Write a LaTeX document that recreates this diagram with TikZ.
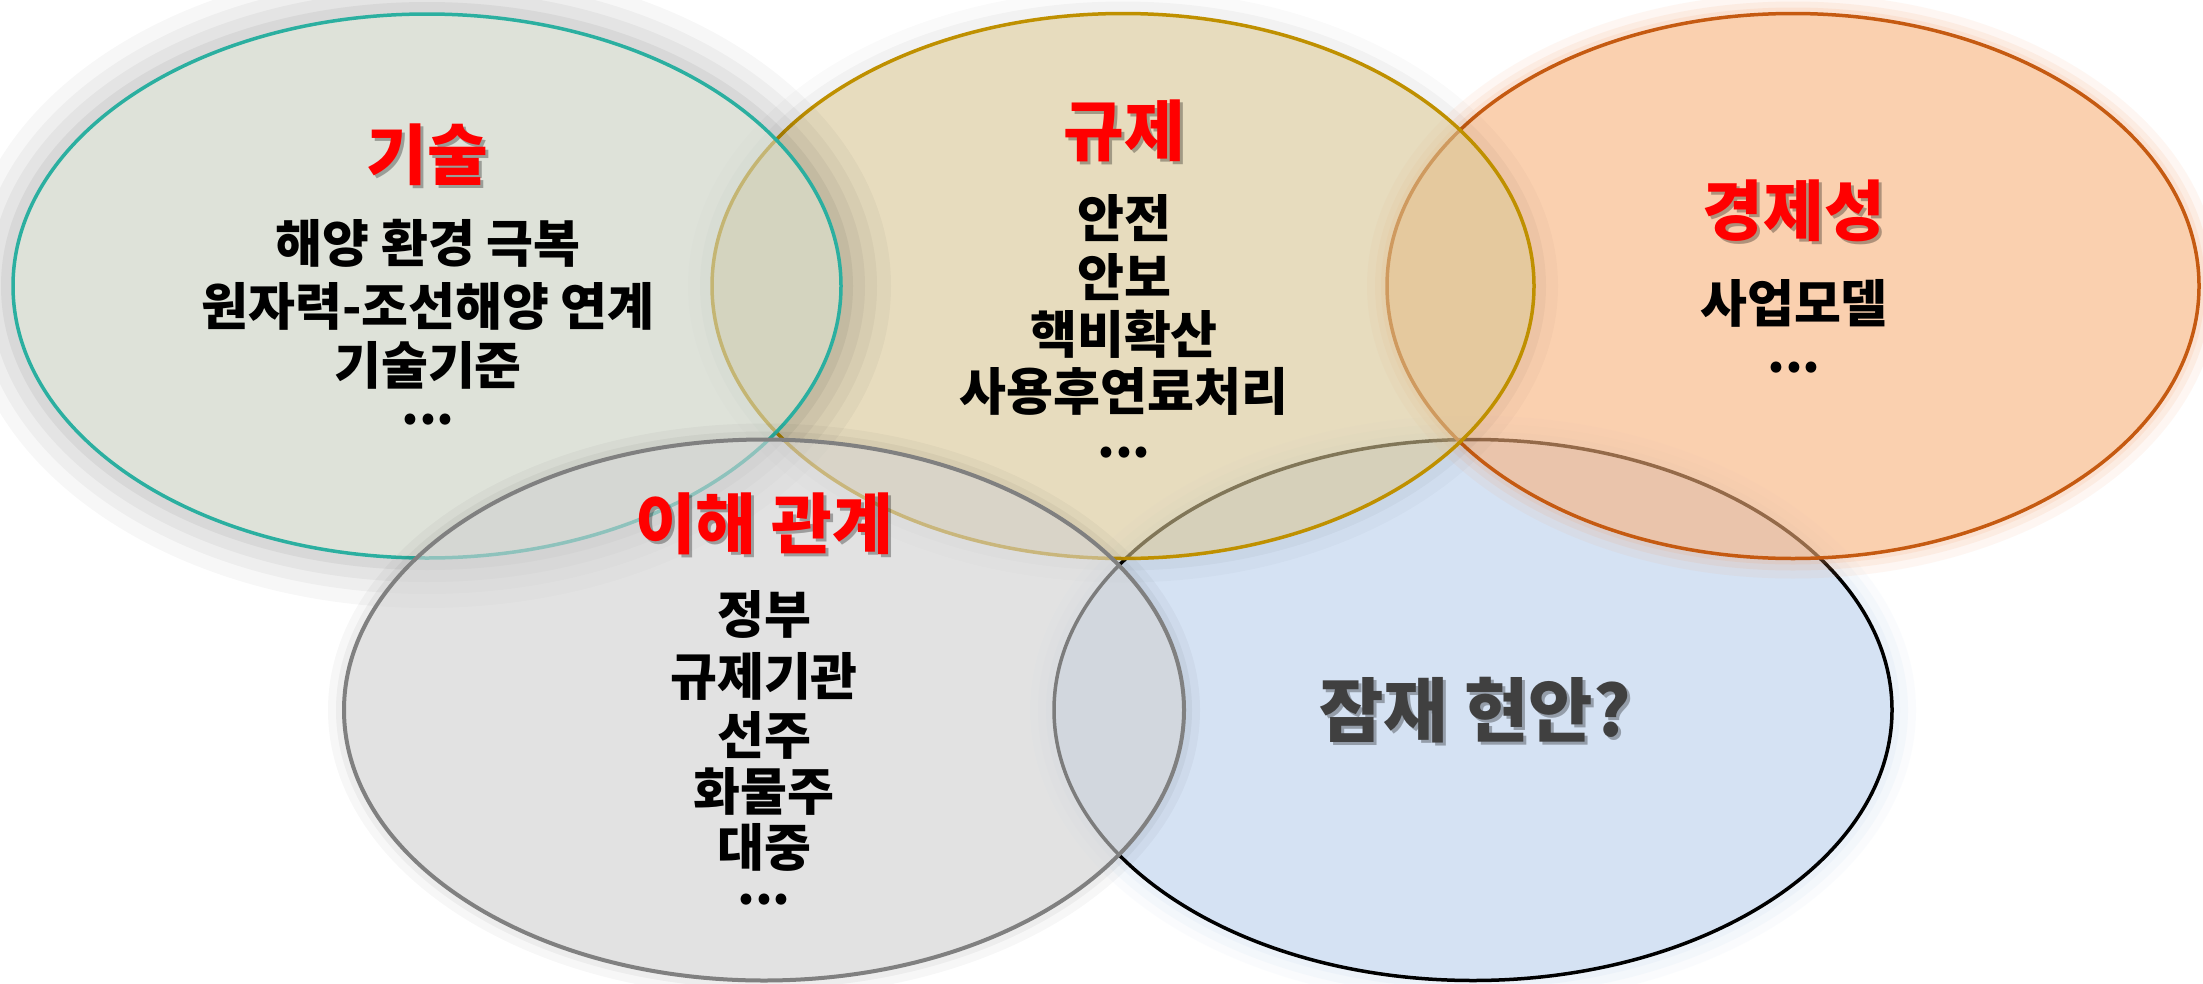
\documentclass[tikz,border=0pt]{standalone}
\usepackage{fontspec}
\setmainfont{Noto Sans CJK KR}[UprightFont=* Black, BoldFont=* Black]
\usetikzlibrary{shapes.geometric}
\definecolor{tealline}{RGB}{43,175,160}
\definecolor{goldline}{RGB}{191,144,0}
\definecolor{orangeline}{RGB}{197,90,17}
\definecolor{greyline}{RGB}{128,128,128}
\definecolor{fillA}{RGB}{200,207,193}
\definecolor{fillB}{RGB}{215,197,148}
\definecolor{fillC}{RGB}{248,177,123}
\definecolor{fillD}{RGB}{208,208,208}
\definecolor{fillE}{RGB}{185,208,235}
\definecolor{titlered}{RGB}{255,0,0}
\definecolor{darktxt}{RGB}{64,64,64}
\definecolor{glowor}{RGB}{244,150,90}
\definecolor{glowbl}{RGB}{160,195,235}
\begin{document}
\begin{tikzpicture}[x=1pt,y=-1pt,
  venn/.style={ellipse, inner sep=0pt, line width=3.5pt, fill opacity=0.6, draw opacity=1},
  halo/.style={ellipse, inner sep=0pt},
  title/.style={font=\fontsize{66}{70}\selectfont, text=titlered, inner sep=0pt},
  tshadow/.style={font=\fontsize{66}{70}\selectfont, text=black, text opacity=0.3, inner sep=0pt},
  item/.style={font=\fontsize{51}{55}\selectfont, text=black, inner sep=0pt},
]
\useasboundingbox (0,0) rectangle (2203,983);
\fill[white] (0,0) rectangle (2203,983);

% E5 (bottom)
\foreach \w/\o in {24/0.05,16/0.07,8/0.08}
  \node[halo, minimum width=838pt+\w pt, minimum height=541pt+\w pt, draw=glowbl, draw opacity=\o, line width=\w pt] at (1473,710) {};
\node[venn, fill=fillE, draw=black, minimum width=838pt, minimum height=541pt] (issue) at (1473,710) {};

% E3
\foreach \w/\o in {20/0.08,12/0.1,6/0.12}
  \node[halo, minimum width=812pt+\w pt, minimum height=545pt+\w pt, draw=glowor, draw opacity=\o, line width=\w pt] at (1793,286) {};
\node[venn, fill=fillC, draw=orangeline, minimum width=812pt, minimum height=545pt] (econ) at (1793,286) {};

% E2
\foreach \w/\o in {24/0.02,12/0.03}
  \node[halo, minimum width=822pt+\w pt, minimum height=545pt+\w pt, draw=black, draw opacity=\o, line width=\w pt] at (1123,286) {};
\node[venn, fill=fillB, draw=goldline, minimum width=822pt, minimum height=545pt] (reg) at (1123,286) {};

% E1
\foreach \w/\o in {50/0.03,36/0.035,24/0.04,12/0.05}
  \node[halo, minimum width=828pt+\w pt, minimum height=544pt+\w pt, draw=black, draw opacity=\o, line width=\w pt] at (427,286) {};
\node[venn, fill=fillA, draw=tealline, minimum width=828pt, minimum height=544pt] (tech) at (427,286) {};

% E4 (top)
\foreach \w/\o in {16/0.03,8/0.04}
  \node[halo, minimum width=840pt+\w pt, minimum height=541pt+\w pt, draw=black, draw opacity=\o, line width=\w pt] at (764,710) {};
\node[venn, fill=fillD, draw=greyline, line width=4pt, minimum width=840pt, minimum height=541pt] (stake) at (764,710) {};

% Texts: 기술
\node[tshadow] at (430,158) {기술};
\node[title] (techT) at (427,155) {기술};
\node[item] (t1) at (428,243) {해양 환경 극복};
\node[item] (t2) at (428,306) {원자력-조선해양 연계};
\node[item] (t3) at (428,365) {기술기준};
\node[item] (t4) at (428,420) {...};

% 규제
\node[tshadow] at (1127,134) {규제};
\node[title] (regT) at (1124,131) {규제};
\node[item] (r1) at (1124,218) {안전};
\node[item] (r2) at (1124,277) {안보};
\node[item] (r3) at (1124,334) {핵비확산};
\node[item] (r4) at (1124,391) {사용후연료처리};
\node[item] (r5) at (1124,453) {...};

% 경제성
\node[tshadow] at (1797,214) {경제성};
\node[title] (econT) at (1794,211) {경제성};
\node[item] (e1) at (1794,303) {사업모델};
\node[item] (e2) at (1794,368) {...};

% 이해 관계
\node[tshadow] at (767,527) {이해 관계};
\node[title] (stakeT) at (764,524) {이해 관계};
\node[item] (s1) at (764,614) {정부};
\node[item] (s2) at (764,676) {규제기관};
\node[item] (s3) at (764,735) {선주};
\node[item] (s4) at (764,791) {화물주};
\node[item] (s5) at (764,847) {대중};
\node[item] (s6) at (764,900) {...};

% 잠재 현안?
\node[tshadow, font=\fontsize{70}{74}\selectfont] at (1478,713) {잠재 현안?};
\node[title, text=darktxt, font=\fontsize{70}{74}\selectfont] (issueT) at (1475,710) {잠재 현안?};
\end{tikzpicture}
\end{document}
